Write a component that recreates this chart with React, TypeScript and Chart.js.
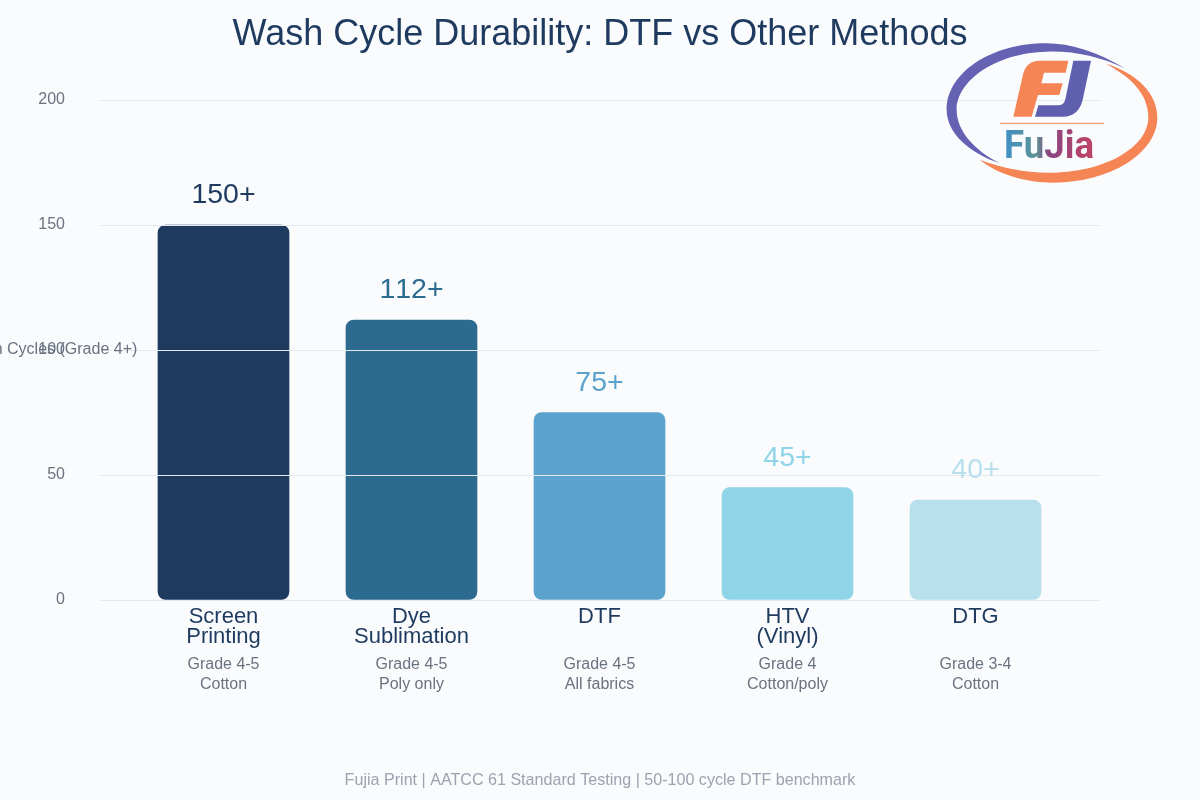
import React, { useEffect, useRef } from "react";
import { Chart, registerables } from "chart.js";

Chart.register(...registerables);

const FONT = "'Liberation Sans', Arial, sans-serif";
const methodLines = [["Screen", "Printing"], ["Dye", "Sublimation"], ["DTF"], ["HTV", "(Vinyl)"], ["DTG"]];
const detailLines = [["Grade 4-5", "Cotton"], ["Grade 4-5", "Poly only"], ["Grade 4-5", "All fabrics"], ["Grade 4", "Cotton/poly"], ["Grade 3-4", "Cotton"]];
const washCycles = [150, 112, 75, 45, 40];
const valueLabels = ["150+", "112+", "75+", "45+", "40+"];
const barColors = ["#1e3a5f", "#2c6b8f", "#5ba3cc", "#90d4e8", "#b8e0ec"];
const titleText = "Wash Cycle Durability: DTF vs Other Methods";
const yTitleText = "Wash Cycles (Grade 4+)";
const footerText = "Fujia Print | AATCC 61 Standard Testing | 50-100 cycle DTF benchmark";
const NAVY = "#1e3a5f";
const GRAY = "#6b7280";
const XMIN = -0.5 - 29.5 / 188;
const XMAX = 4.5 + 30.5 / 188;

const fixTicks = (scale: any) => {
  scale.ticks = methodLines.map((_, i) => ({ value: i }));
};

const annotations = {
  id: "annotations",
  afterDraw(chart: any) {
    const { ctx, scales } = chart;
    ctx.save();
    ctx.textAlign = "center";
    ctx.textBaseline = "middle";
    ctx.font = `28.5px ${FONT}`;
    (ctx as any).fontKerning = "none";
    washCycles.forEach((v, i) => {
      ctx.fillStyle = barColors[i];
      ctx.fillText(valueLabels[i], scales.x.getPixelForValue(i), scales.y.getPixelForValue(v) - 29.5);
    });
    ctx.font = `16px ${FONT}`;
    ctx.fillStyle = GRAY;
    ctx.fillText(yTitleText, 49.5, scales.y.getPixelForValue(100) - 0.5);
    ctx.restore();

    // brand logo (top right)
    ctx.save();
    ctx.translate(930, 30);
    ctx.scale(1 / 3, 1 / 3);
    ctx.fillStyle = "#6562b3";
    ctx.beginPath();
    ctx.moveTo(585, 115);
    ctx.bezierCurveTo(500, 65, 420, 40, 350, 40);
    ctx.bezierCurveTo(180, 40, 50, 130, 50, 240);
    ctx.bezierCurveTo(50, 310, 120, 370, 210, 400);
    ctx.bezierCurveTo(130, 360, 80, 300, 80, 240);
    ctx.bezierCurveTo(80, 150, 200, 68, 350, 65);
    ctx.bezierCurveTo(430, 62, 510, 80, 585, 115);
    ctx.fill();
    ctx.fillStyle = "#f58555";
    ctx.beginPath();
    ctx.moveTo(525, 100);
    ctx.bezierCurveTo(620, 130, 682, 190, 682, 262);
    ctx.bezierCurveTo(682, 370, 540, 458, 370, 458);
    ctx.bezierCurveTo(280, 458, 200, 430, 150, 390);
    ctx.bezierCurveTo(220, 415, 290, 430, 370, 428);
    ctx.bezierCurveTo(530, 425, 655, 350, 655, 262);
    ctx.bezierCurveTo(655, 190, 600, 140, 525, 100);
    ctx.fill();
    // F
    ctx.beginPath();
    ctx.moveTo(415, 92);
    ctx.lineTo(330, 92);
    ctx.quadraticCurveTo(290, 92, 280, 130);
    ctx.lineTo(250, 260);
    ctx.lineTo(305, 260);
    ctx.lineTo(324, 195);
    ctx.lineTo(388, 195);
    ctx.lineTo(398, 160);
    ctx.lineTo(334, 160);
    ctx.lineTo(342, 128);
    ctx.lineTo(407, 128);
    ctx.closePath();
    ctx.fill();
    // J
    ctx.fillStyle = "#5f5fb0";
    ctx.beginPath();
    ctx.moveTo(430, 92);
    ctx.lineTo(483, 92);
    ctx.lineTo(458, 210);
    ctx.quadraticCurveTo(445, 260, 400, 260);
    ctx.lineTo(315, 260);
    ctx.lineTo(325, 226);
    ctx.lineTo(385, 226);
    ctx.quadraticCurveTo(402, 226, 406, 208);
    ctx.closePath();
    ctx.fill();
    ctx.strokeStyle = "#f58555";
    ctx.lineWidth = 3;
    ctx.beginPath();
    ctx.moveTo(210, 280);
    ctx.lineTo(522, 280);
    ctx.stroke();
    const grad = ctx.createLinearGradient(222, 0, 492, 0);
    grad.addColorStop(0, "#3f8fc9");
    grad.addColorStop(0.4, "#5c9497");
    grad.addColorStop(0.55, "#8a4480");
    grad.addColorStop(1, "#bb4468");
    ctx.fillStyle = grad;
    ctx.font = "700 114px Roboto, sans-serif";
    ctx.textAlign = "center";
    ctx.textBaseline = "alphabetic";
    ctx.fillText("FuJia", 357, 383, 270);
    ctx.restore();
  },
};

export default function App() {
  const ref = useRef<HTMLCanvasElement>(null);
  useEffect(() => {
    document.body.style.margin = "0";
    const chart = new Chart(ref.current as HTMLCanvasElement, {
      type: "bar",
      data: {
        datasets: [
          {
            data: washCycles.map((v, i) => ({ x: i, y: v })),
            backgroundColor: barColors,
            borderRadius: 8,
            borderSkipped: false,
            barThickness: 131,
          },
        ],
      },
      options: {
        responsive: false,
        animation: false,
        layout: { padding: 0 },
        plugins: {
          legend: { display: false },
          tooltip: { enabled: false },
          title: {
            display: true,
            text: titleText,
            color: NAVY,
            font: { family: FONT, size: 36, weight: "normal", lineHeight: 1.2 },
            padding: { top: 13, bottom: 43.8 },
          },
          subtitle: {
            display: true,
            position: "bottom",
            text: footerText,
            color: "#9ca3af",
            font: { family: FONT, size: 16.1, weight: "normal", lineHeight: 1.2 },
            padding: { top: 73, bottom: 9.68 },
          },
        },
        scales: {
          x: {
            type: "linear",
            min: XMIN,
            max: XMAX,
            offset: false,
            weight: 0,
            grid: { display: false, offset: false, drawTicks: false },
            border: { display: false },
            afterBuildTicks: fixTicks,
            afterFit: (s: any) => { s.height = 50; },
            ticks: {
              autoSkip: false,
              maxRotation: 0,
              padding: 7,
              color: NAVY,
              font: { family: FONT, size: 22, lineHeight: "20px" },
              callback: (v: any) => methodLines[v],
            },
          },
          x2: {
            type: "linear",
            axis: "x",
            position: "bottom",
            min: XMIN,
            max: XMAX,
            offset: false,
            weight: 1,
            grid: { display: false, offset: false, drawTicks: false },
            border: { display: false },
            afterBuildTicks: fixTicks,
            afterFit: (s: any) => { s.height = 48; },
            ticks: {
              autoSkip: false,
              maxRotation: 0,
              padding: 5,
              color: GRAY,
              font: { family: FONT, size: 16, lineHeight: "20px" },
              callback: (v: any) => detailLines[v],
            },
          },
          y: {
            min: 0,
            max: 200,
            afterFit: (s: any) => { s.width = 100; },
            border: { display: false },
            grid: { color: "#e5e9f0", z: 1, drawTicks: false, lineWidth: 1 },
            ticks: {
              stepSize: 50,
              padding: 35,
              color: GRAY,
              font: { family: FONT, size: 16 },
            },
          },
          rightGutter: {
            type: "linear",
            axis: "y",
            position: "right",
            min: 0,
            max: 200,
            afterFit: (s: any) => { s.width = 100; },
            border: { display: false },
            grid: { display: false, drawTicks: false },
            ticks: { display: false },
          },
        },
      },
      plugins: [annotations],
    } as any);
    return () => chart.destroy();
  }, []);
  return (
    <div style={{ position: "relative", width: 1200, height: 800, background: "#f9fbfd", overflow: "hidden" }}>
      <canvas ref={ref} width={1200} height={800} style={{ display: "block" }} />
    </div>
  );
}
